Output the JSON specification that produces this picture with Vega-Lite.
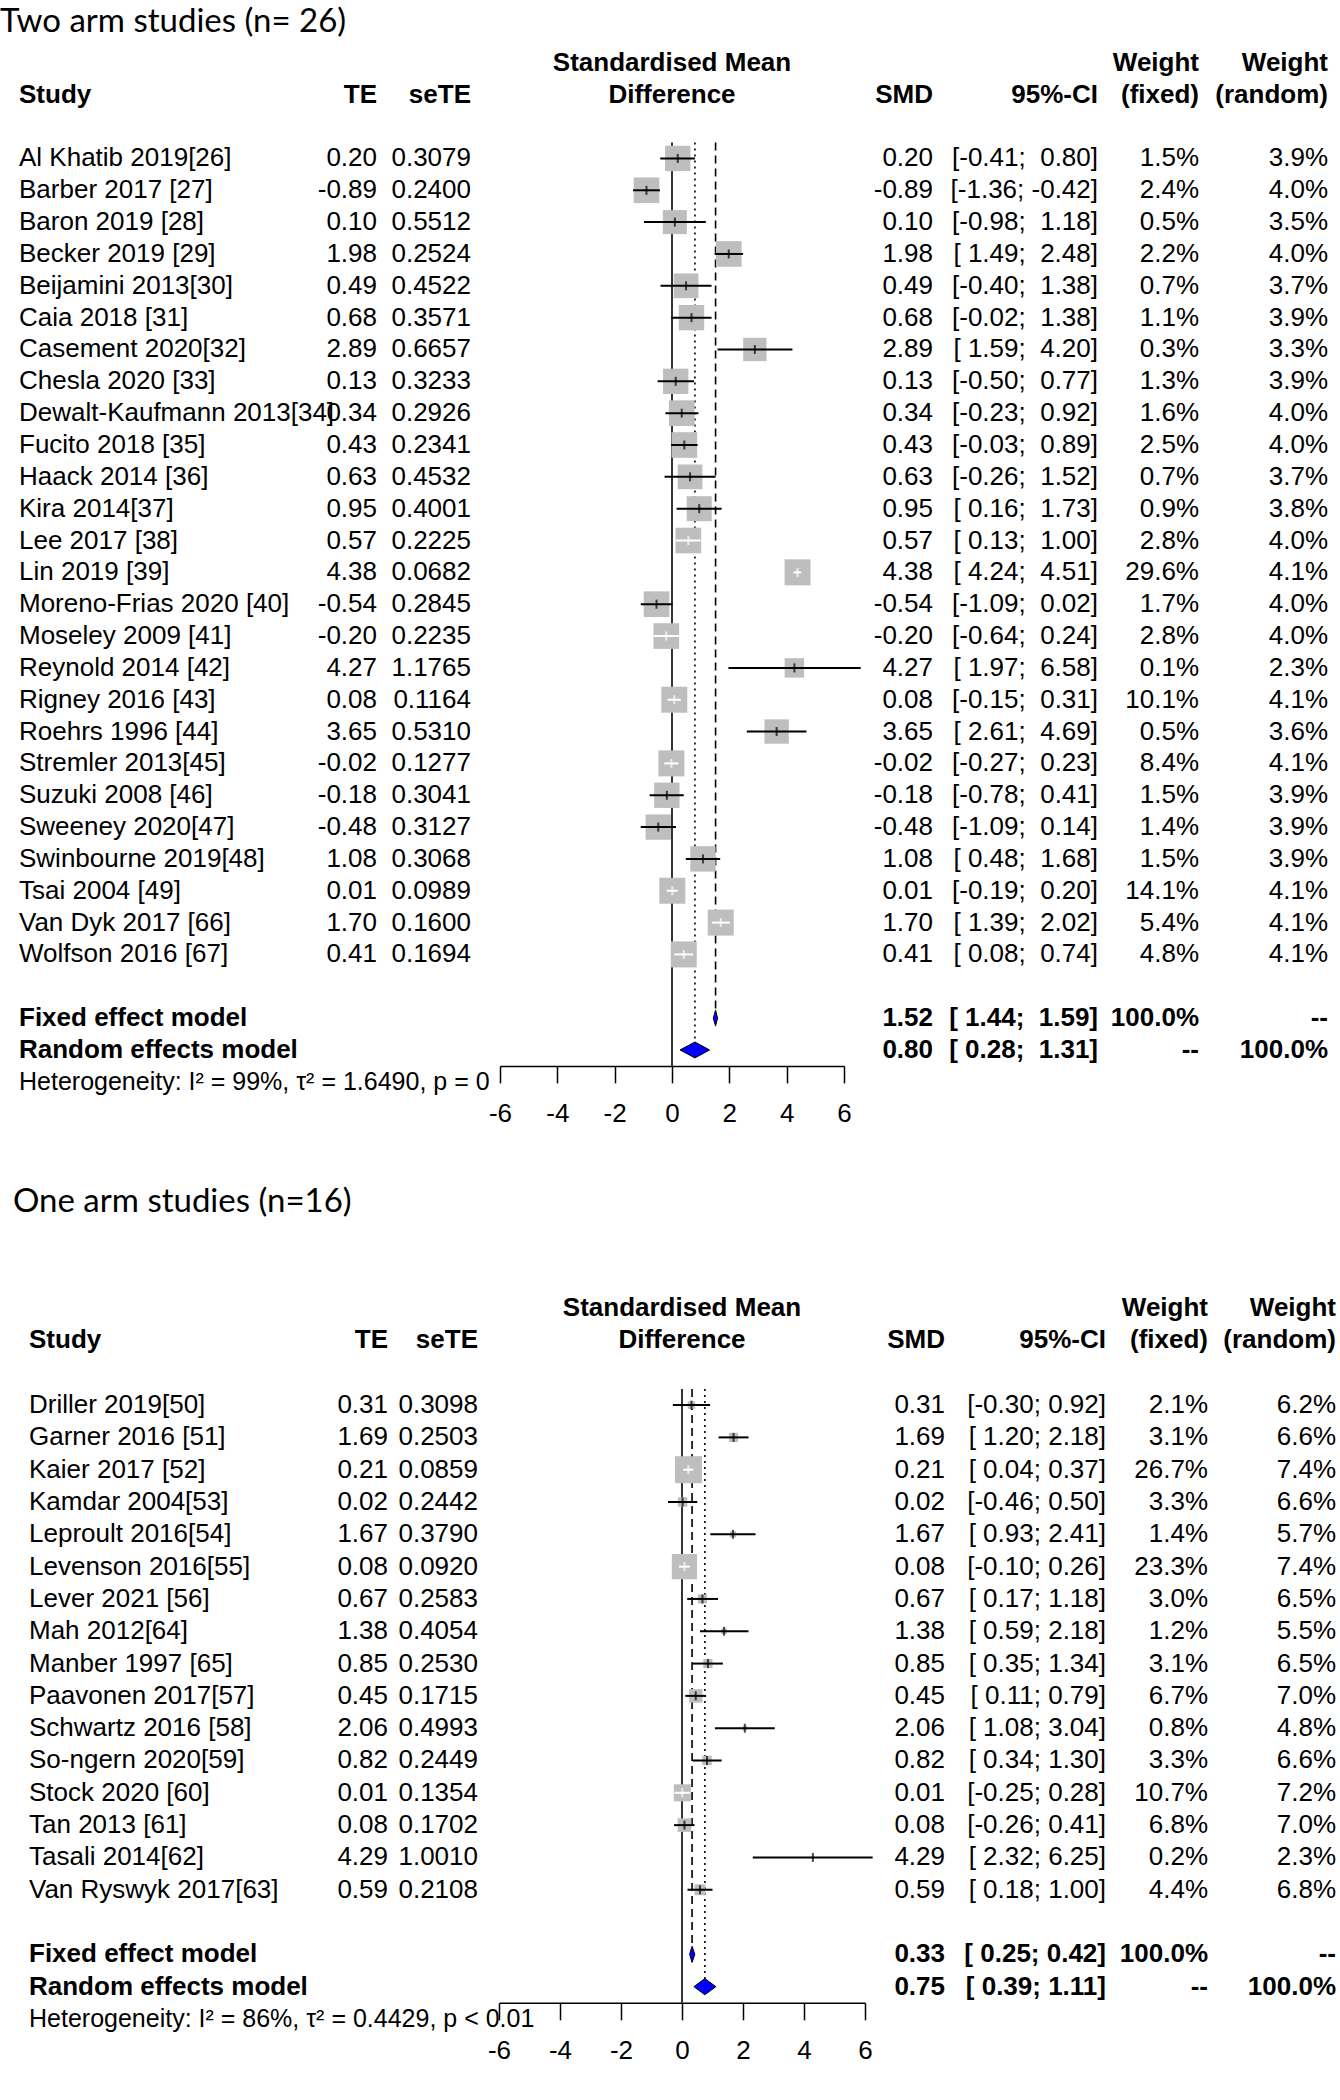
{
  "$schema": "https://vega.github.io/schema/vega-lite/v6.json",
  "background": "white",
  "padding": {"left": 0, "top": 6, "right": 0, "bottom": 0},
  "config": {
    "view": {"stroke": null},
    "text": {"font": "Liberation Sans", "fontSize": 26, "baseline": "middle", "color": "black"},
    "axis": {"labelFont": "Liberation Sans", "labelFontSize": 26, "labelColor": "black", "tickColor": "black", "domainColor": "black", "tickSize": 17, "tickWidth": 1.5, "domainWidth": 1.5, "labelPadding": 18, "grid": false, "labelFlush": false, "labelOverlap": false},
    "title": {"font": "Lato", "fontSize": 33, "fontWeight": "normal", "color": "black", "anchor": "start"}
  },
  "datasets": {
    "A": [
      {"row": "h1", "kind": "head", "Forest": "Standardised Mean", "WF": "Weight", "WR": "Weight"},
      {"row": "h2", "kind": "head", "Study": "Study", "TE": "TE", "seTE": "seTE", "Forest": "Difference", "SMD": "SMD", "CI": "95%-CI", "WF": "(fixed)", "WR": "(random)"},
      {"row": "Al Khatib 2019[26]", "kind": "study", "TE": "0.20", "seTE": "0.3079", "SMD": "0.20", "CI": "[-0.41; \u00a00.80]", "WF": "1.5%", "WR": "3.9%", "smd": 0.20, "lo": -0.41, "hi": 0.80, "wf": 1.5, "wr": 3.9},
      {"row": "Barber 2017 [27]", "kind": "study", "TE": "-0.89", "seTE": "0.2400", "SMD": "-0.89", "CI": "[-1.36; -0.42]", "WF": "2.4%", "WR": "4.0%", "smd": -0.89, "lo": -1.36, "hi": -0.42, "wf": 2.4, "wr": 4.0},
      {"row": "Baron 2019 [28]", "kind": "study", "TE": "0.10", "seTE": "0.5512", "SMD": "0.10", "CI": "[-0.98; \u00a01.18]", "WF": "0.5%", "WR": "3.5%", "smd": 0.10, "lo": -0.98, "hi": 1.18, "wf": 0.5, "wr": 3.5},
      {"row": "Becker 2019 [29]", "kind": "study", "TE": "1.98", "seTE": "0.2524", "SMD": "1.98", "CI": "[ 1.49; \u00a02.48]", "WF": "2.2%", "WR": "4.0%", "smd": 1.98, "lo": 1.49, "hi": 2.48, "wf": 2.2, "wr": 4.0},
      {"row": "Beijamini 2013[30]", "kind": "study", "TE": "0.49", "seTE": "0.4522", "SMD": "0.49", "CI": "[-0.40; \u00a01.38]", "WF": "0.7%", "WR": "3.7%", "smd": 0.49, "lo": -0.40, "hi": 1.38, "wf": 0.7, "wr": 3.7},
      {"row": "Caia 2018 [31]", "kind": "study", "TE": "0.68", "seTE": "0.3571", "SMD": "0.68", "CI": "[-0.02; \u00a01.38]", "WF": "1.1%", "WR": "3.9%", "smd": 0.68, "lo": -0.02, "hi": 1.38, "wf": 1.1, "wr": 3.9},
      {"row": "Casement 2020[32]", "kind": "study", "TE": "2.89", "seTE": "0.6657", "SMD": "2.89", "CI": "[ 1.59; \u00a04.20]", "WF": "0.3%", "WR": "3.3%", "smd": 2.89, "lo": 1.59, "hi": 4.20, "wf": 0.3, "wr": 3.3},
      {"row": "Chesla 2020 [33]", "kind": "study", "TE": "0.13", "seTE": "0.3233", "SMD": "0.13", "CI": "[-0.50; \u00a00.77]", "WF": "1.3%", "WR": "3.9%", "smd": 0.13, "lo": -0.50, "hi": 0.77, "wf": 1.3, "wr": 3.9},
      {"row": "Dewalt-Kaufmann 2013[34]", "kind": "study", "TE": "0.34", "seTE": "0.2926", "SMD": "0.34", "CI": "[-0.23; \u00a00.92]", "WF": "1.6%", "WR": "4.0%", "smd": 0.34, "lo": -0.23, "hi": 0.92, "wf": 1.6, "wr": 4.0},
      {"row": "Fucito 2018 [35]", "kind": "study", "TE": "0.43", "seTE": "0.2341", "SMD": "0.43", "CI": "[-0.03; \u00a00.89]", "WF": "2.5%", "WR": "4.0%", "smd": 0.43, "lo": -0.03, "hi": 0.89, "wf": 2.5, "wr": 4.0},
      {"row": "Haack 2014 [36]", "kind": "study", "TE": "0.63", "seTE": "0.4532", "SMD": "0.63", "CI": "[-0.26; \u00a01.52]", "WF": "0.7%", "WR": "3.7%", "smd": 0.63, "lo": -0.26, "hi": 1.52, "wf": 0.7, "wr": 3.7},
      {"row": "Kira 2014[37]", "kind": "study", "TE": "0.95", "seTE": "0.4001", "SMD": "0.95", "CI": "[ 0.16; \u00a01.73]", "WF": "0.9%", "WR": "3.8%", "smd": 0.95, "lo": 0.16, "hi": 1.73, "wf": 0.9, "wr": 3.8},
      {"row": "Lee 2017 [38]", "kind": "study", "TE": "0.57", "seTE": "0.2225", "SMD": "0.57", "CI": "[ 0.13; \u00a01.00]", "WF": "2.8%", "WR": "4.0%", "smd": 0.57, "lo": 0.13, "hi": 1.00, "wf": 2.8, "wr": 4.0},
      {"row": "Lin 2019 [39]", "kind": "study", "TE": "4.38", "seTE": "0.0682", "SMD": "4.38", "CI": "[ 4.24; \u00a04.51]", "WF": "29.6%", "WR": "4.1%", "smd": 4.38, "lo": 4.24, "hi": 4.51, "wf": 29.6, "wr": 4.1},
      {"row": "Moreno-Frias 2020 [40]", "kind": "study", "TE": "-0.54", "seTE": "0.2845", "SMD": "-0.54", "CI": "[-1.09; \u00a00.02]", "WF": "1.7%", "WR": "4.0%", "smd": -0.54, "lo": -1.09, "hi": 0.02, "wf": 1.7, "wr": 4.0},
      {"row": "Moseley 2009 [41]", "kind": "study", "TE": "-0.20", "seTE": "0.2235", "SMD": "-0.20", "CI": "[-0.64; \u00a00.24]", "WF": "2.8%", "WR": "4.0%", "smd": -0.20, "lo": -0.64, "hi": 0.24, "wf": 2.8, "wr": 4.0},
      {"row": "Reynold 2014 [42]", "kind": "study", "TE": "4.27", "seTE": "1.1765", "SMD": "4.27", "CI": "[ 1.97; \u00a06.58]", "WF": "0.1%", "WR": "2.3%", "smd": 4.27, "lo": 1.97, "hi": 6.58, "wf": 0.1, "wr": 2.3},
      {"row": "Rigney 2016 [43]", "kind": "study", "TE": "0.08", "seTE": "0.1164", "SMD": "0.08", "CI": "[-0.15; \u00a00.31]", "WF": "10.1%", "WR": "4.1%", "smd": 0.08, "lo": -0.15, "hi": 0.31, "wf": 10.1, "wr": 4.1},
      {"row": "Roehrs 1996 [44]", "kind": "study", "TE": "3.65", "seTE": "0.5310", "SMD": "3.65", "CI": "[ 2.61; \u00a04.69]", "WF": "0.5%", "WR": "3.6%", "smd": 3.65, "lo": 2.61, "hi": 4.69, "wf": 0.5, "wr": 3.6},
      {"row": "Stremler 2013[45]", "kind": "study", "TE": "-0.02", "seTE": "0.1277", "SMD": "-0.02", "CI": "[-0.27; \u00a00.23]", "WF": "8.4%", "WR": "4.1%", "smd": -0.02, "lo": -0.27, "hi": 0.23, "wf": 8.4, "wr": 4.1},
      {"row": "Suzuki 2008 [46]", "kind": "study", "TE": "-0.18", "seTE": "0.3041", "SMD": "-0.18", "CI": "[-0.78; \u00a00.41]", "WF": "1.5%", "WR": "3.9%", "smd": -0.18, "lo": -0.78, "hi": 0.41, "wf": 1.5, "wr": 3.9},
      {"row": "Sweeney 2020[47]", "kind": "study", "TE": "-0.48", "seTE": "0.3127", "SMD": "-0.48", "CI": "[-1.09; \u00a00.14]", "WF": "1.4%", "WR": "3.9%", "smd": -0.48, "lo": -1.09, "hi": 0.14, "wf": 1.4, "wr": 3.9},
      {"row": "Swinbourne 2019[48]", "kind": "study", "TE": "1.08", "seTE": "0.3068", "SMD": "1.08", "CI": "[ 0.48; \u00a01.68]", "WF": "1.5%", "WR": "3.9%", "smd": 1.08, "lo": 0.48, "hi": 1.68, "wf": 1.5, "wr": 3.9},
      {"row": "Tsai 2004 [49]", "kind": "study", "TE": "0.01", "seTE": "0.0989", "SMD": "0.01", "CI": "[-0.19; \u00a00.20]", "WF": "14.1%", "WR": "4.1%", "smd": 0.01, "lo": -0.19, "hi": 0.20, "wf": 14.1, "wr": 4.1},
      {"row": "Van Dyk 2017 [66]", "kind": "study", "TE": "1.70", "seTE": "0.1600", "SMD": "1.70", "CI": "[ 1.39; \u00a02.02]", "WF": "5.4%", "WR": "4.1%", "smd": 1.70, "lo": 1.39, "hi": 2.02, "wf": 5.4, "wr": 4.1},
      {"row": "Wolfson 2016 [67]", "kind": "study", "TE": "0.41", "seTE": "0.1694", "SMD": "0.41", "CI": "[ 0.08; \u00a00.74]", "WF": "4.8%", "WR": "4.1%", "smd": 0.41, "lo": 0.08, "hi": 0.74, "wf": 4.8, "wr": 4.1},
      {"row": "Fixed effect model", "kind": "model", "SMD": "1.52", "CI": "[ 1.44; \u00a01.59]", "WF": "100.0%", "WR": "--", "smd": 1.52, "lo": 1.44, "hi": 1.59},
      {"row": "Random effects model", "kind": "model", "SMD": "0.80", "CI": "[ 0.28; \u00a01.31]", "WF": "--", "WR": "100.0%", "smd": 0.80, "lo": 0.28, "hi": 1.31},
      {"row": "het", "kind": "het", "Study": "Heterogeneity: I\u00b2 = 99%, \u03c4\u00b2 = 1.6490, p = 0"}
    ],
    "Adia": [
      {"row": "Fixed effect model", "x": 1.44, "pos": "mid"},
      {"row": "Fixed effect model", "x": 1.52, "pos": "top"},
      {"row": "Fixed effect model", "x": 1.59, "pos": "mid"},
      {"row": "Fixed effect model", "x": 1.52, "pos": "bottom"},
      {"row": "Random effects model", "x": 0.28, "pos": "mid"},
      {"row": "Random effects model", "x": 0.80, "pos": "top"},
      {"row": "Random effects model", "x": 1.31, "pos": "mid"},
      {"row": "Random effects model", "x": 0.80, "pos": "bottom"}
    ],
    "B": [
      {"row": "h1", "kind": "head", "Forest": "Standardised Mean", "WF": "Weight", "WR": "Weight"},
      {"row": "h2", "kind": "head", "Study": "Study", "TE": "TE", "seTE": "seTE", "Forest": "Difference", "SMD": "SMD", "CI": "95%-CI", "WF": "(fixed)", "WR": "(random)"},
      {"row": "Driller 2019[50]", "kind": "study", "TE": "0.31", "seTE": "0.3098", "SMD": "0.31", "CI": "[-0.30; 0.92]", "WF": "2.1%", "WR": "6.2%", "smd": 0.31, "lo": -0.30, "hi": 0.92, "wf": 2.1, "wr": 6.2},
      {"row": "Garner 2016 [51]", "kind": "study", "TE": "1.69", "seTE": "0.2503", "SMD": "1.69", "CI": "[ 1.20; 2.18]", "WF": "3.1%", "WR": "6.6%", "smd": 1.69, "lo": 1.20, "hi": 2.18, "wf": 3.1, "wr": 6.6},
      {"row": "Kaier 2017 [52]", "kind": "study", "TE": "0.21", "seTE": "0.0859", "SMD": "0.21", "CI": "[ 0.04; 0.37]", "WF": "26.7%", "WR": "7.4%", "smd": 0.21, "lo": 0.04, "hi": 0.37, "wf": 26.7, "wr": 7.4},
      {"row": "Kamdar 2004[53]", "kind": "study", "TE": "0.02", "seTE": "0.2442", "SMD": "0.02", "CI": "[-0.46; 0.50]", "WF": "3.3%", "WR": "6.6%", "smd": 0.02, "lo": -0.46, "hi": 0.50, "wf": 3.3, "wr": 6.6},
      {"row": "Leproult 2016[54]", "kind": "study", "TE": "1.67", "seTE": "0.3790", "SMD": "1.67", "CI": "[ 0.93; 2.41]", "WF": "1.4%", "WR": "5.7%", "smd": 1.67, "lo": 0.93, "hi": 2.41, "wf": 1.4, "wr": 5.7},
      {"row": "Levenson 2016[55]", "kind": "study", "TE": "0.08", "seTE": "0.0920", "SMD": "0.08", "CI": "[-0.10; 0.26]", "WF": "23.3%", "WR": "7.4%", "smd": 0.08, "lo": -0.10, "hi": 0.26, "wf": 23.3, "wr": 7.4},
      {"row": "Lever 2021 [56]", "kind": "study", "TE": "0.67", "seTE": "0.2583", "SMD": "0.67", "CI": "[ 0.17; 1.18]", "WF": "3.0%", "WR": "6.5%", "smd": 0.67, "lo": 0.17, "hi": 1.18, "wf": 3.0, "wr": 6.5},
      {"row": "Mah 2012[64]", "kind": "study", "TE": "1.38", "seTE": "0.4054", "SMD": "1.38", "CI": "[ 0.59; 2.18]", "WF": "1.2%", "WR": "5.5%", "smd": 1.38, "lo": 0.59, "hi": 2.18, "wf": 1.2, "wr": 5.5},
      {"row": "Manber 1997 [65]", "kind": "study", "TE": "0.85", "seTE": "0.2530", "SMD": "0.85", "CI": "[ 0.35; 1.34]", "WF": "3.1%", "WR": "6.5%", "smd": 0.85, "lo": 0.35, "hi": 1.34, "wf": 3.1, "wr": 6.5},
      {"row": "Paavonen 2017[57]", "kind": "study", "TE": "0.45", "seTE": "0.1715", "SMD": "0.45", "CI": "[ 0.11; 0.79]", "WF": "6.7%", "WR": "7.0%", "smd": 0.45, "lo": 0.11, "hi": 0.79, "wf": 6.7, "wr": 7.0},
      {"row": "Schwartz 2016 [58]", "kind": "study", "TE": "2.06", "seTE": "0.4993", "SMD": "2.06", "CI": "[ 1.08; 3.04]", "WF": "0.8%", "WR": "4.8%", "smd": 2.06, "lo": 1.08, "hi": 3.04, "wf": 0.8, "wr": 4.8},
      {"row": "So-ngern 2020[59]", "kind": "study", "TE": "0.82", "seTE": "0.2449", "SMD": "0.82", "CI": "[ 0.34; 1.30]", "WF": "3.3%", "WR": "6.6%", "smd": 0.82, "lo": 0.34, "hi": 1.30, "wf": 3.3, "wr": 6.6},
      {"row": "Stock 2020 [60]", "kind": "study", "TE": "0.01", "seTE": "0.1354", "SMD": "0.01", "CI": "[-0.25; 0.28]", "WF": "10.7%", "WR": "7.2%", "smd": 0.01, "lo": -0.25, "hi": 0.28, "wf": 10.7, "wr": 7.2},
      {"row": "Tan 2013 [61]", "kind": "study", "TE": "0.08", "seTE": "0.1702", "SMD": "0.08", "CI": "[-0.26; 0.41]", "WF": "6.8%", "WR": "7.0%", "smd": 0.08, "lo": -0.26, "hi": 0.41, "wf": 6.8, "wr": 7.0},
      {"row": "Tasali 2014[62]", "kind": "study", "TE": "4.29", "seTE": "1.0010", "SMD": "4.29", "CI": "[ 2.32; 6.25]", "WF": "0.2%", "WR": "2.3%", "smd": 4.29, "lo": 2.32, "hi": 6.25, "wf": 0.2, "wr": 2.3},
      {"row": "Van Ryswyk 2017[63]", "kind": "study", "TE": "0.59", "seTE": "0.2108", "SMD": "0.59", "CI": "[ 0.18; 1.00]", "WF": "4.4%", "WR": "6.8%", "smd": 0.59, "lo": 0.18, "hi": 1.00, "wf": 4.4, "wr": 6.8},
      {"row": "Fixed effect model", "kind": "model", "SMD": "0.33", "CI": "[ 0.25; 0.42]", "WF": "100.0%", "WR": "--", "smd": 0.33, "lo": 0.25, "hi": 0.42},
      {"row": "Random effects model", "kind": "model", "SMD": "0.75", "CI": "[ 0.39; 1.11]", "WF": "--", "WR": "100.0%", "smd": 0.75, "lo": 0.39, "hi": 1.11},
      {"row": "het", "kind": "het", "Study": "Heterogeneity: I\u00b2 = 86%, \u03c4\u00b2 = 0.4429, p < 0.01"}
    ],
    "Bdia": [
      {"row": "Fixed effect model", "x": 0.25, "pos": "mid"},
      {"row": "Fixed effect model", "x": 0.33, "pos": "top"},
      {"row": "Fixed effect model", "x": 0.42, "pos": "mid"},
      {"row": "Fixed effect model", "x": 0.33, "pos": "bottom"},
      {"row": "Random effects model", "x": 0.39, "pos": "mid"},
      {"row": "Random effects model", "x": 0.75, "pos": "top"},
      {"row": "Random effects model", "x": 1.11, "pos": "mid"},
      {"row": "Random effects model", "x": 0.75, "pos": "bottom"}
    ]
  },
  "spacing": 59,
  "bounds": "full",
  "resolve": {"scale": {"x": "independent", "y": "independent", "size": "independent", "yOffset": "independent", "color": "independent"}},
  "vconcat": [
    {
      "title": {"text": "Two arm studies (n= 26)", "offset": 8},
      "spacing": 29,
      "bounds": "flush",
      "resolve": {"scale": {"x": "independent", "y": "independent", "size": "independent", "yOffset": "independent", "color": "independent"}},
      "hconcat": [
        {
          "width": 280, "height": {"step": 31.84},
          "data": {"name": "A"},
          "encoding": {
            "y": {"field": "row", "type": "nominal", "axis": null, "scale": {"type": "band", "paddingInner": 0, "paddingOuter": 0, "domain": ["h1","h2","g1","Al Khatib 2019[26]","Barber 2017 [27]","Baron 2019 [28]","Becker 2019 [29]","Beijamini 2013[30]","Caia 2018 [31]","Casement 2020[32]","Chesla 2020 [33]","Dewalt-Kaufmann 2013[34]","Fucito 2018 [35]","Haack 2014 [36]","Kira 2014[37]","Lee 2017 [38]","Lin 2019 [39]","Moreno-Frias 2020 [40]","Moseley 2009 [41]","Reynold 2014 [42]","Rigney 2016 [43]","Roehrs 1996 [44]","Stremler 2013[45]","Suzuki 2008 [46]","Sweeney 2020[47]","Swinbourne 2019[48]","Tsai 2004 [49]","Van Dyk 2017 [66]","Wolfson 2016 [67]","g2","Fixed effect model","Random effects model","het"]}},
            "x": {"datum": "c", "type": "nominal", "axis": null, "scale": {"type": "point", "padding": 0, "align": 0}}
          },
          "layer": [
            {"transform": [{"filter": "datum.kind == 'study'"}], "mark": {"type": "text", "align": "left", "dx": 19}, "encoding": {"text": {"field": "row", "type": "nominal"}}},
            {"transform": [{"filter": "datum.kind == 'model'"}], "mark": {"type": "text", "align": "left", "dx": 19, "fontWeight": "bold"}, "encoding": {"text": {"field": "row", "type": "nominal"}}},
            {"transform": [{"filter": "datum.row == 'h2'"}], "mark": {"type": "text", "align": "left", "dx": 19, "fontWeight": "bold"}, "encoding": {"text": {"field": "Study", "type": "nominal"}}},
            {"transform": [{"filter": "datum.kind == 'het'"}], "mark": {"type": "text", "align": "left", "dx": 19, "fontSize": 25}, "encoding": {"text": {"field": "Study", "type": "nominal"}}}
          ]
        },
        {
          "width": 68, "height": {"step": 31.84},
          "data": {"name": "A"},
          "encoding": {
            "y": {"field": "row", "type": "nominal", "axis": null, "scale": {"type": "band", "paddingInner": 0, "paddingOuter": 0, "domain": ["h1","h2","g1","Al Khatib 2019[26]","Barber 2017 [27]","Baron 2019 [28]","Becker 2019 [29]","Beijamini 2013[30]","Caia 2018 [31]","Casement 2020[32]","Chesla 2020 [33]","Dewalt-Kaufmann 2013[34]","Fucito 2018 [35]","Haack 2014 [36]","Kira 2014[37]","Lee 2017 [38]","Lin 2019 [39]","Moreno-Frias 2020 [40]","Moseley 2009 [41]","Reynold 2014 [42]","Rigney 2016 [43]","Roehrs 1996 [44]","Stremler 2013[45]","Suzuki 2008 [46]","Sweeney 2020[47]","Swinbourne 2019[48]","Tsai 2004 [49]","Van Dyk 2017 [66]","Wolfson 2016 [67]","g2","Fixed effect model","Random effects model"]}},
            "x": {"datum": "c", "type": "nominal", "axis": null, "scale": {"type": "point", "padding": 0, "align": 1}},
            "text": {"field": "TE", "type": "nominal"}
          },
          "layer": [
            {"transform": [{"filter": "datum.kind == 'study'"}], "mark": {"type": "text", "align": "right"}},
            {"transform": [{"filter": "datum.kind != 'study' && datum.TE != null"}], "mark": {"type": "text", "align": "right", "fontWeight": "bold"}}
          ]
        },
        {
          "width": 65, "height": {"step": 31.84},
          "data": {"name": "A"},
          "encoding": {
            "y": {"field": "row", "type": "nominal", "axis": null, "scale": {"type": "band", "paddingInner": 0, "paddingOuter": 0, "domain": ["h1","h2","g1","Al Khatib 2019[26]","Barber 2017 [27]","Baron 2019 [28]","Becker 2019 [29]","Beijamini 2013[30]","Caia 2018 [31]","Casement 2020[32]","Chesla 2020 [33]","Dewalt-Kaufmann 2013[34]","Fucito 2018 [35]","Haack 2014 [36]","Kira 2014[37]","Lee 2017 [38]","Lin 2019 [39]","Moreno-Frias 2020 [40]","Moseley 2009 [41]","Reynold 2014 [42]","Rigney 2016 [43]","Roehrs 1996 [44]","Stremler 2013[45]","Suzuki 2008 [46]","Sweeney 2020[47]","Swinbourne 2019[48]","Tsai 2004 [49]","Van Dyk 2017 [66]","Wolfson 2016 [67]","g2","Fixed effect model","Random effects model"]}},
            "x": {"datum": "c", "type": "nominal", "axis": null, "scale": {"type": "point", "padding": 0, "align": 1}},
            "text": {"field": "seTE", "type": "nominal"}
          },
          "layer": [
            {"transform": [{"filter": "datum.kind == 'study'"}], "mark": {"type": "text", "align": "right"}},
            {"transform": [{"filter": "datum.kind != 'study' && datum.seTE != null"}], "mark": {"type": "text", "align": "right", "fontWeight": "bold"}}
          ]
        },
        {
          "width": 344, "height": {"step": 31.84, "for": "position"},
          "encoding": {
            "y": {"field": "row", "type": "nominal", "axis": null, "scale": {"type": "band", "paddingInner": 0, "paddingOuter": 0, "domain": ["h1","h2","g1","Al Khatib 2019[26]","Barber 2017 [27]","Baron 2019 [28]","Becker 2019 [29]","Beijamini 2013[30]","Caia 2018 [31]","Casement 2020[32]","Chesla 2020 [33]","Dewalt-Kaufmann 2013[34]","Fucito 2018 [35]","Haack 2014 [36]","Kira 2014[37]","Lee 2017 [38]","Lin 2019 [39]","Moreno-Frias 2020 [40]","Moseley 2009 [41]","Reynold 2014 [42]","Rigney 2016 [43]","Roehrs 1996 [44]","Stremler 2013[45]","Suzuki 2008 [46]","Sweeney 2020[47]","Swinbourne 2019[48]","Tsai 2004 [49]","Van Dyk 2017 [66]","Wolfson 2016 [67]","g2","Fixed effect model","Random effects model"]}}
          },
          "layer": [
            {
              "data": {"values": [{}]},
              "mark": {"type": "rule", "color": "black", "strokeWidth": 1.6},
              "encoding": {
                "x": {"datum": 0, "type": "quantitative", "title": null, "scale": {"domain": [-6, 6], "nice": false, "zero": false}, "axis": {"values": [-6, -4, -2, 0, 2, 4, 6], "labelExpr": "'' + datum.value"}},
                "y": {"datum": "Al Khatib 2019[26]", "type": "nominal", "bandPosition": 0},
                "y2": {"datum": "Random effects model", "bandPosition": 1}
              }
            },
            {
              "data": {"name": "A"},
              "transform": [{"filter": "datum.row == 'Fixed effect model'"}],
              "mark": {"type": "rule", "color": "black", "strokeWidth": 1.6, "strokeDash": [8, 5]},
              "encoding": {
                "x": {"field": "smd", "type": "quantitative", "title": null, "scale": {"domain": [-6, 6], "nice": false, "zero": false}, "axis": {"values": [-6, -4, -2, 0, 2, 4, 6], "labelExpr": "'' + datum.value"}},
                "y": {"datum": "Al Khatib 2019[26]", "type": "nominal", "bandPosition": 0},
                "y2": {"field": "row"}
              }
            },
            {
              "data": {"name": "A"},
              "transform": [{"filter": "datum.row == 'Random effects model'"}],
              "mark": {"type": "rule", "color": "black", "strokeWidth": 1.6, "strokeDash": [2, 4]},
              "encoding": {
                "x": {"field": "smd", "type": "quantitative", "title": null, "scale": {"domain": [-6, 6], "nice": false, "zero": false}, "axis": {"values": [-6, -4, -2, 0, 2, 4, 6], "labelExpr": "'' + datum.value"}},
                "y": {"datum": "Al Khatib 2019[26]", "type": "nominal", "bandPosition": 0},
                "y2": {"field": "row"}
              }
            },
            {
              "data": {"name": "A"},
              "transform": [{"filter": "datum.kind == 'study'"}],
              "mark": {"type": "square", "color": "#bebebe", "opacity": 1, "filled": true},
              "encoding": {
                "x": {"field": "smd", "type": "quantitative", "title": null, "scale": {"domain": [-6, 6], "nice": false, "zero": false}, "axis": {"values": [-6, -4, -2, 0, 2, 4, 6], "labelExpr": "'' + datum.value"}},
                "size": {"field": "wr", "type": "quantitative", "legend": null, "scale": {"domain": [0, 4.1], "range": [0, 676]}}
              }
            },
            {
              "data": {"name": "A"},
              "transform": [{"filter": "datum.kind == 'study'"}],
              "mark": {"type": "rule", "strokeWidth": 2},
              "encoding": {
                "x": {"field": "lo", "type": "quantitative", "title": null, "scale": {"domain": [-6, 6], "nice": false, "zero": false}, "axis": {"values": [-6, -4, -2, 0, 2, 4, 6], "labelExpr": "'' + datum.value"}},
                "x2": {"field": "hi"},
                "color": {"condition": {"test": "(datum.hi - datum.lo) * 28.67 < sqrt(datum.wr * 676 / 4.1)", "value": "white"}, "value": "black"}
              }
            },
            {
              "data": {"name": "A"},
              "transform": [{"filter": "datum.kind == 'study'"}],
              "mark": {"type": "tick", "orient": "vertical", "size": 9, "thickness": 2},
              "encoding": {
                "x": {"field": "smd", "type": "quantitative", "title": null, "scale": {"domain": [-6, 6], "nice": false, "zero": false}, "axis": {"values": [-6, -4, -2, 0, 2, 4, 6], "labelExpr": "'' + datum.value"}},
                "color": {"condition": {"test": "(datum.hi - datum.lo) * 28.67 < sqrt(datum.wr * 676 / 4.1)", "value": "white"}, "value": "black"}
              }
            },
            {
              "data": {"name": "Adia"},
              "mark": {"type": "line", "fill": "#0000ff", "stroke": "black", "strokeWidth": 1, "interpolate": "linear-closed"},
              "encoding": {
                "x": {"field": "x", "type": "quantitative", "title": null, "scale": {"domain": [-6, 6], "nice": false, "zero": false}, "axis": {"values": [-6, -4, -2, 0, 2, 4, 6], "labelExpr": "'' + datum.value"}},
                "yOffset": {"field": "pos", "type": "nominal", "scale": {"type": "point", "domain": ["top", "mid", "bottom"], "padding": 1.08}},
                "detail": {"field": "row"},
                "order": {"value": null}
              }
            },
            {
              "data": {"name": "A"},
              "transform": [{"filter": "datum.kind == 'head'"}],
              "mark": {"type": "text", "fontWeight": "bold"},
              "encoding": {
                "x": {"datum": 0, "type": "quantitative", "title": null, "scale": {"domain": [-6, 6], "nice": false, "zero": false}, "axis": {"values": [-6, -4, -2, 0, 2, 4, 6], "labelExpr": "'' + datum.value"}},
                "text": {"field": "Forest", "type": "nominal"}
              }
            }
          ]
        },
        {
          "width": 60, "height": {"step": 31.84},
          "data": {"name": "A"},
          "encoding": {
            "y": {"field": "row", "type": "nominal", "axis": null, "scale": {"type": "band", "paddingInner": 0, "paddingOuter": 0, "domain": ["h1","h2","g1","Al Khatib 2019[26]","Barber 2017 [27]","Baron 2019 [28]","Becker 2019 [29]","Beijamini 2013[30]","Caia 2018 [31]","Casement 2020[32]","Chesla 2020 [33]","Dewalt-Kaufmann 2013[34]","Fucito 2018 [35]","Haack 2014 [36]","Kira 2014[37]","Lee 2017 [38]","Lin 2019 [39]","Moreno-Frias 2020 [40]","Moseley 2009 [41]","Reynold 2014 [42]","Rigney 2016 [43]","Roehrs 1996 [44]","Stremler 2013[45]","Suzuki 2008 [46]","Sweeney 2020[47]","Swinbourne 2019[48]","Tsai 2004 [49]","Van Dyk 2017 [66]","Wolfson 2016 [67]","g2","Fixed effect model","Random effects model"]}},
            "x": {"datum": "c", "type": "nominal", "axis": null, "scale": {"type": "point", "padding": 0, "align": 1}},
            "text": {"field": "SMD", "type": "nominal"}
          },
          "layer": [
            {"transform": [{"filter": "datum.kind == 'study'"}], "mark": {"type": "text", "align": "right"}},
            {"transform": [{"filter": "datum.kind != 'study' && datum.SMD != null"}], "mark": {"type": "text", "align": "right", "fontWeight": "bold"}}
          ]
        },
        {
          "width": 136, "height": {"step": 31.84},
          "data": {"name": "A"},
          "encoding": {
            "y": {"field": "row", "type": "nominal", "axis": null, "scale": {"type": "band", "paddingInner": 0, "paddingOuter": 0, "domain": ["h1","h2","g1","Al Khatib 2019[26]","Barber 2017 [27]","Baron 2019 [28]","Becker 2019 [29]","Beijamini 2013[30]","Caia 2018 [31]","Casement 2020[32]","Chesla 2020 [33]","Dewalt-Kaufmann 2013[34]","Fucito 2018 [35]","Haack 2014 [36]","Kira 2014[37]","Lee 2017 [38]","Lin 2019 [39]","Moreno-Frias 2020 [40]","Moseley 2009 [41]","Reynold 2014 [42]","Rigney 2016 [43]","Roehrs 1996 [44]","Stremler 2013[45]","Suzuki 2008 [46]","Sweeney 2020[47]","Swinbourne 2019[48]","Tsai 2004 [49]","Van Dyk 2017 [66]","Wolfson 2016 [67]","g2","Fixed effect model","Random effects model"]}},
            "x": {"datum": "c", "type": "nominal", "axis": null, "scale": {"type": "point", "padding": 0, "align": 1}},
            "text": {"field": "CI", "type": "nominal"}
          },
          "layer": [
            {"transform": [{"filter": "datum.kind == 'study'"}], "mark": {"type": "text", "align": "right"}},
            {"transform": [{"filter": "datum.kind != 'study' && datum.CI != null"}], "mark": {"type": "text", "align": "right", "fontWeight": "bold"}}
          ]
        },
        {
          "width": 72, "height": {"step": 31.84},
          "data": {"name": "A"},
          "encoding": {
            "y": {"field": "row", "type": "nominal", "axis": null, "scale": {"type": "band", "paddingInner": 0, "paddingOuter": 0, "domain": ["h1","h2","g1","Al Khatib 2019[26]","Barber 2017 [27]","Baron 2019 [28]","Becker 2019 [29]","Beijamini 2013[30]","Caia 2018 [31]","Casement 2020[32]","Chesla 2020 [33]","Dewalt-Kaufmann 2013[34]","Fucito 2018 [35]","Haack 2014 [36]","Kira 2014[37]","Lee 2017 [38]","Lin 2019 [39]","Moreno-Frias 2020 [40]","Moseley 2009 [41]","Reynold 2014 [42]","Rigney 2016 [43]","Roehrs 1996 [44]","Stremler 2013[45]","Suzuki 2008 [46]","Sweeney 2020[47]","Swinbourne 2019[48]","Tsai 2004 [49]","Van Dyk 2017 [66]","Wolfson 2016 [67]","g2","Fixed effect model","Random effects model"]}},
            "x": {"datum": "c", "type": "nominal", "axis": null, "scale": {"type": "point", "padding": 0, "align": 1}},
            "text": {"field": "WF", "type": "nominal"}
          },
          "layer": [
            {"transform": [{"filter": "datum.kind == 'study'"}], "mark": {"type": "text", "align": "right"}},
            {"transform": [{"filter": "datum.kind != 'study' && datum.WF != null"}], "mark": {"type": "text", "align": "right", "fontWeight": "bold"}}
          ]
        },
        {
          "width": 100, "height": {"step": 31.84},
          "data": {"name": "A"},
          "encoding": {
            "y": {"field": "row", "type": "nominal", "axis": null, "scale": {"type": "band", "paddingInner": 0, "paddingOuter": 0, "domain": ["h1","h2","g1","Al Khatib 2019[26]","Barber 2017 [27]","Baron 2019 [28]","Becker 2019 [29]","Beijamini 2013[30]","Caia 2018 [31]","Casement 2020[32]","Chesla 2020 [33]","Dewalt-Kaufmann 2013[34]","Fucito 2018 [35]","Haack 2014 [36]","Kira 2014[37]","Lee 2017 [38]","Lin 2019 [39]","Moreno-Frias 2020 [40]","Moseley 2009 [41]","Reynold 2014 [42]","Rigney 2016 [43]","Roehrs 1996 [44]","Stremler 2013[45]","Suzuki 2008 [46]","Sweeney 2020[47]","Swinbourne 2019[48]","Tsai 2004 [49]","Van Dyk 2017 [66]","Wolfson 2016 [67]","g2","Fixed effect model","Random effects model"]}},
            "x": {"datum": "c", "type": "nominal", "axis": null, "scale": {"type": "point", "padding": 0, "align": 1}},
            "text": {"field": "WR", "type": "nominal"}
          },
          "layer": [
            {"transform": [{"filter": "datum.kind == 'study'"}], "mark": {"type": "text", "align": "right"}},
            {"transform": [{"filter": "datum.kind != 'study' && datum.WR != null"}], "mark": {"type": "text", "align": "right", "fontWeight": "bold"}}
          ]
        }
      ]
    },
    {
      "title": {"text": "One arm studies (n=16)", "offset": 73, "dx": 13},
      "spacing": 21,
      "bounds": "flush",
      "resolve": {"scale": {"x": "independent", "y": "independent", "size": "independent", "yOffset": "independent", "color": "independent"}},
      "hconcat": [
        {
          "width": 290, "height": {"step": 32.31},
          "data": {"name": "B"},
          "encoding": {
            "y": {"field": "row", "type": "nominal", "axis": null, "scale": {"type": "band", "paddingInner": 0, "paddingOuter": 0, "domain": ["h1","h2","g1","Driller 2019[50]","Garner 2016 [51]","Kaier 2017 [52]","Kamdar 2004[53]","Leproult 2016[54]","Levenson 2016[55]","Lever 2021 [56]","Mah 2012[64]","Manber 1997 [65]","Paavonen 2017[57]","Schwartz 2016 [58]","So-ngern 2020[59]","Stock 2020 [60]","Tan 2013 [61]","Tasali 2014[62]","Van Ryswyk 2017[63]","g2","Fixed effect model","Random effects model","het"]}},
            "x": {"datum": "c", "type": "nominal", "axis": null, "scale": {"type": "point", "padding": 0, "align": 0}}
          },
          "layer": [
            {"transform": [{"filter": "datum.kind == 'study'"}], "mark": {"type": "text", "align": "left", "dx": 29}, "encoding": {"text": {"field": "row", "type": "nominal"}}},
            {"transform": [{"filter": "datum.kind == 'model'"}], "mark": {"type": "text", "align": "left", "dx": 29, "fontWeight": "bold"}, "encoding": {"text": {"field": "row", "type": "nominal"}}},
            {"transform": [{"filter": "datum.row == 'h2'"}], "mark": {"type": "text", "align": "left", "dx": 29, "fontWeight": "bold"}, "encoding": {"text": {"field": "Study", "type": "nominal"}}},
            {"transform": [{"filter": "datum.kind == 'het'"}], "mark": {"type": "text", "align": "left", "dx": 29, "fontSize": 25}, "encoding": {"text": {"field": "Study", "type": "nominal"}}}
          ]
        },
        {
          "width": 77, "height": {"step": 32.31},
          "data": {"name": "B"},
          "encoding": {
            "y": {"field": "row", "type": "nominal", "axis": null, "scale": {"type": "band", "paddingInner": 0, "paddingOuter": 0, "domain": ["h1","h2","g1","Driller 2019[50]","Garner 2016 [51]","Kaier 2017 [52]","Kamdar 2004[53]","Leproult 2016[54]","Levenson 2016[55]","Lever 2021 [56]","Mah 2012[64]","Manber 1997 [65]","Paavonen 2017[57]","Schwartz 2016 [58]","So-ngern 2020[59]","Stock 2020 [60]","Tan 2013 [61]","Tasali 2014[62]","Van Ryswyk 2017[63]","g2","Fixed effect model","Random effects model"]}},
            "x": {"datum": "c", "type": "nominal", "axis": null, "scale": {"type": "point", "padding": 0, "align": 1}},
            "text": {"field": "TE", "type": "nominal"}
          },
          "layer": [
            {"transform": [{"filter": "datum.kind == 'study'"}], "mark": {"type": "text", "align": "right"}},
            {"transform": [{"filter": "datum.kind != 'study' && datum.TE != null"}], "mark": {"type": "text", "align": "right", "fontWeight": "bold"}}
          ]
        },
        {
          "width": 69, "height": {"step": 32.31},
          "data": {"name": "B"},
          "encoding": {
            "y": {"field": "row", "type": "nominal", "axis": null, "scale": {"type": "band", "paddingInner": 0, "paddingOuter": 0, "domain": ["h1","h2","g1","Driller 2019[50]","Garner 2016 [51]","Kaier 2017 [52]","Kamdar 2004[53]","Leproult 2016[54]","Levenson 2016[55]","Lever 2021 [56]","Mah 2012[64]","Manber 1997 [65]","Paavonen 2017[57]","Schwartz 2016 [58]","So-ngern 2020[59]","Stock 2020 [60]","Tan 2013 [61]","Tasali 2014[62]","Van Ryswyk 2017[63]","g2","Fixed effect model","Random effects model"]}},
            "x": {"datum": "c", "type": "nominal", "axis": null, "scale": {"type": "point", "padding": 0, "align": 1}},
            "text": {"field": "seTE", "type": "nominal"}
          },
          "layer": [
            {"transform": [{"filter": "datum.kind == 'study'"}], "mark": {"type": "text", "align": "right"}},
            {"transform": [{"filter": "datum.kind != 'study' && datum.seTE != null"}], "mark": {"type": "text", "align": "right", "fontWeight": "bold"}}
          ]
        },
        {
          "width": 366, "height": {"step": 32.31, "for": "position"},
          "encoding": {
            "y": {"field": "row", "type": "nominal", "axis": null, "scale": {"type": "band", "paddingInner": 0, "paddingOuter": 0, "domain": ["h1","h2","g1","Driller 2019[50]","Garner 2016 [51]","Kaier 2017 [52]","Kamdar 2004[53]","Leproult 2016[54]","Levenson 2016[55]","Lever 2021 [56]","Mah 2012[64]","Manber 1997 [65]","Paavonen 2017[57]","Schwartz 2016 [58]","So-ngern 2020[59]","Stock 2020 [60]","Tan 2013 [61]","Tasali 2014[62]","Van Ryswyk 2017[63]","g2","Fixed effect model","Random effects model"]}}
          },
          "layer": [
            {
              "data": {"values": [{}]},
              "mark": {"type": "rule", "color": "black", "strokeWidth": 1.6},
              "encoding": {
                "x": {"datum": 0, "type": "quantitative", "title": null, "scale": {"domain": [-6, 6], "nice": false, "zero": false}, "axis": {"values": [-6, -4, -2, 0, 2, 4, 6], "labelExpr": "'' + datum.value"}},
                "y": {"datum": "Driller 2019[50]", "type": "nominal", "bandPosition": 0},
                "y2": {"datum": "Random effects model", "bandPosition": 1}
              }
            },
            {
              "data": {"name": "B"},
              "transform": [{"filter": "datum.row == 'Fixed effect model'"}],
              "mark": {"type": "rule", "color": "black", "strokeWidth": 1.6, "strokeDash": [8, 5]},
              "encoding": {
                "x": {"field": "smd", "type": "quantitative", "title": null, "scale": {"domain": [-6, 6], "nice": false, "zero": false}, "axis": {"values": [-6, -4, -2, 0, 2, 4, 6], "labelExpr": "'' + datum.value"}},
                "y": {"datum": "Driller 2019[50]", "type": "nominal", "bandPosition": 0},
                "y2": {"field": "row"}
              }
            },
            {
              "data": {"name": "B"},
              "transform": [{"filter": "datum.row == 'Random effects model'"}],
              "mark": {"type": "rule", "color": "black", "strokeWidth": 1.6, "strokeDash": [2, 4]},
              "encoding": {
                "x": {"field": "smd", "type": "quantitative", "title": null, "scale": {"domain": [-6, 6], "nice": false, "zero": false}, "axis": {"values": [-6, -4, -2, 0, 2, 4, 6], "labelExpr": "'' + datum.value"}},
                "y": {"datum": "Driller 2019[50]", "type": "nominal", "bandPosition": 0},
                "y2": {"field": "row"}
              }
            },
            {
              "data": {"name": "B"},
              "transform": [{"filter": "datum.kind == 'study'"}],
              "mark": {"type": "square", "color": "#bebebe", "opacity": 1, "filled": true},
              "encoding": {
                "x": {"field": "smd", "type": "quantitative", "title": null, "scale": {"domain": [-6, 6], "nice": false, "zero": false}, "axis": {"values": [-6, -4, -2, 0, 2, 4, 6], "labelExpr": "'' + datum.value"}},
                "size": {"field": "wf", "type": "quantitative", "legend": null, "scale": {"domain": [0, 26.7], "range": [0, 729]}}
              }
            },
            {
              "data": {"name": "B"},
              "transform": [{"filter": "datum.kind == 'study'"}],
              "mark": {"type": "rule", "strokeWidth": 2},
              "encoding": {
                "x": {"field": "lo", "type": "quantitative", "title": null, "scale": {"domain": [-6, 6], "nice": false, "zero": false}, "axis": {"values": [-6, -4, -2, 0, 2, 4, 6], "labelExpr": "'' + datum.value"}},
                "x2": {"field": "hi"},
                "color": {"condition": {"test": "(datum.hi - datum.lo) * 30.5 < sqrt(datum.wf * 729 / 26.7)", "value": "white"}, "value": "black"}
              }
            },
            {
              "data": {"name": "B"},
              "transform": [{"filter": "datum.kind == 'study'"}],
              "mark": {"type": "tick", "orient": "vertical", "size": 9, "thickness": 2},
              "encoding": {
                "x": {"field": "smd", "type": "quantitative", "title": null, "scale": {"domain": [-6, 6], "nice": false, "zero": false}, "axis": {"values": [-6, -4, -2, 0, 2, 4, 6], "labelExpr": "'' + datum.value"}},
                "color": {"condition": {"test": "(datum.hi - datum.lo) * 30.5 < sqrt(datum.wf * 729 / 26.7)", "value": "white"}, "value": "black"}
              }
            },
            {
              "data": {"name": "Bdia"},
              "mark": {"type": "line", "fill": "#0000ff", "stroke": "black", "strokeWidth": 1, "interpolate": "linear-closed"},
              "encoding": {
                "x": {"field": "x", "type": "quantitative", "title": null, "scale": {"domain": [-6, 6], "nice": false, "zero": false}, "axis": {"values": [-6, -4, -2, 0, 2, 4, 6], "labelExpr": "'' + datum.value"}},
                "yOffset": {"field": "pos", "type": "nominal", "scale": {"type": "point", "domain": ["top", "mid", "bottom"], "padding": 1.11}},
                "detail": {"field": "row"},
                "order": {"value": null}
              }
            },
            {
              "data": {"name": "B"},
              "transform": [{"filter": "datum.kind == 'head'"}],
              "mark": {"type": "text", "fontWeight": "bold"},
              "encoding": {
                "x": {"datum": 0, "type": "quantitative", "title": null, "scale": {"domain": [-6, 6], "nice": false, "zero": false}, "axis": {"values": [-6, -4, -2, 0, 2, 4, 6], "labelExpr": "'' + datum.value"}},
                "text": {"field": "Forest", "type": "nominal"}
              }
            }
          ]
        },
        {
          "width": 59, "height": {"step": 32.31},
          "data": {"name": "B"},
          "encoding": {
            "y": {"field": "row", "type": "nominal", "axis": null, "scale": {"type": "band", "paddingInner": 0, "paddingOuter": 0, "domain": ["h1","h2","g1","Driller 2019[50]","Garner 2016 [51]","Kaier 2017 [52]","Kamdar 2004[53]","Leproult 2016[54]","Levenson 2016[55]","Lever 2021 [56]","Mah 2012[64]","Manber 1997 [65]","Paavonen 2017[57]","Schwartz 2016 [58]","So-ngern 2020[59]","Stock 2020 [60]","Tan 2013 [61]","Tasali 2014[62]","Van Ryswyk 2017[63]","g2","Fixed effect model","Random effects model"]}},
            "x": {"datum": "c", "type": "nominal", "axis": null, "scale": {"type": "point", "padding": 0, "align": 1}},
            "text": {"field": "SMD", "type": "nominal"}
          },
          "layer": [
            {"transform": [{"filter": "datum.kind == 'study'"}], "mark": {"type": "text", "align": "right"}},
            {"transform": [{"filter": "datum.kind != 'study' && datum.SMD != null"}], "mark": {"type": "text", "align": "right", "fontWeight": "bold"}}
          ]
        },
        {
          "width": 140, "height": {"step": 32.31},
          "data": {"name": "B"},
          "encoding": {
            "y": {"field": "row", "type": "nominal", "axis": null, "scale": {"type": "band", "paddingInner": 0, "paddingOuter": 0, "domain": ["h1","h2","g1","Driller 2019[50]","Garner 2016 [51]","Kaier 2017 [52]","Kamdar 2004[53]","Leproult 2016[54]","Levenson 2016[55]","Lever 2021 [56]","Mah 2012[64]","Manber 1997 [65]","Paavonen 2017[57]","Schwartz 2016 [58]","So-ngern 2020[59]","Stock 2020 [60]","Tan 2013 [61]","Tasali 2014[62]","Van Ryswyk 2017[63]","g2","Fixed effect model","Random effects model"]}},
            "x": {"datum": "c", "type": "nominal", "axis": null, "scale": {"type": "point", "padding": 0, "align": 1}},
            "text": {"field": "CI", "type": "nominal"}
          },
          "layer": [
            {"transform": [{"filter": "datum.kind == 'study'"}], "mark": {"type": "text", "align": "right"}},
            {"transform": [{"filter": "datum.kind != 'study' && datum.CI != null"}], "mark": {"type": "text", "align": "right", "fontWeight": "bold"}}
          ]
        },
        {
          "width": 81, "height": {"step": 32.31},
          "data": {"name": "B"},
          "encoding": {
            "y": {"field": "row", "type": "nominal", "axis": null, "scale": {"type": "band", "paddingInner": 0, "paddingOuter": 0, "domain": ["h1","h2","g1","Driller 2019[50]","Garner 2016 [51]","Kaier 2017 [52]","Kamdar 2004[53]","Leproult 2016[54]","Levenson 2016[55]","Lever 2021 [56]","Mah 2012[64]","Manber 1997 [65]","Paavonen 2017[57]","Schwartz 2016 [58]","So-ngern 2020[59]","Stock 2020 [60]","Tan 2013 [61]","Tasali 2014[62]","Van Ryswyk 2017[63]","g2","Fixed effect model","Random effects model"]}},
            "x": {"datum": "c", "type": "nominal", "axis": null, "scale": {"type": "point", "padding": 0, "align": 1}},
            "text": {"field": "WF", "type": "nominal"}
          },
          "layer": [
            {"transform": [{"filter": "datum.kind == 'study'"}], "mark": {"type": "text", "align": "right"}},
            {"transform": [{"filter": "datum.kind != 'study' && datum.WF != null"}], "mark": {"type": "text", "align": "right", "fontWeight": "bold"}}
          ]
        },
        {
          "width": 107, "height": {"step": 32.31},
          "data": {"name": "B"},
          "encoding": {
            "y": {"field": "row", "type": "nominal", "axis": null, "scale": {"type": "band", "paddingInner": 0, "paddingOuter": 0, "domain": ["h1","h2","g1","Driller 2019[50]","Garner 2016 [51]","Kaier 2017 [52]","Kamdar 2004[53]","Leproult 2016[54]","Levenson 2016[55]","Lever 2021 [56]","Mah 2012[64]","Manber 1997 [65]","Paavonen 2017[57]","Schwartz 2016 [58]","So-ngern 2020[59]","Stock 2020 [60]","Tan 2013 [61]","Tasali 2014[62]","Van Ryswyk 2017[63]","g2","Fixed effect model","Random effects model"]}},
            "x": {"datum": "c", "type": "nominal", "axis": null, "scale": {"type": "point", "padding": 0, "align": 1}},
            "text": {"field": "WR", "type": "nominal"}
          },
          "layer": [
            {"transform": [{"filter": "datum.kind == 'study'"}], "mark": {"type": "text", "align": "right"}},
            {"transform": [{"filter": "datum.kind != 'study' && datum.WR != null"}], "mark": {"type": "text", "align": "right", "fontWeight": "bold"}}
          ]
        }
      ]
    }
  ]
}
